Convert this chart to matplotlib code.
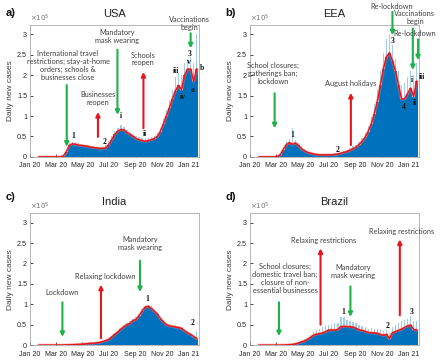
import numpy as np
import matplotlib
matplotlib.use("Agg")
import matplotlib.pyplot as plt

# weekly sample days (days since 1 Jan 2020), values in units of 1e5 daily cases
week_days = [21 + 7 * k for k in range(53)]
tick_days = [0, 60, 121, 182, 244, 305, 366]
tick_labels = ["Jan 20", "Mar 20", "May 20", "Jul 20", "Sep 20", "Nov 20", "Jan 21"]

usa = [0, 0, 0, 0, 0, 0, 0, 0, 0.02, 0.12, 0.28, 0.32, 0.31, 0.29, 0.28, 0.27, 0.26, 0.24,
       0.23, 0.22, 0.21, 0.21, 0.22, 0.30, 0.42, 0.55, 0.63, 0.67, 0.66, 0.60, 0.55, 0.50,
       0.45, 0.42, 0.40, 0.38, 0.40, 0.42, 0.45, 0.50, 0.62, 0.80, 1.00, 1.20, 1.42, 1.62,
       1.75, 1.65, 2.00, 2.15, 2.15, 1.85, 2.15]
usa_peak = [0, 0, 0, 0, 0, 0, 0, 0, 0.03, 0.15, 0.34, 0.36, 0.35, 0.33, 0.31, 0.30, 0.29, 0.27,
            0.26, 0.25, 0.24, 0.25, 0.28, 0.38, 0.50, 0.63, 0.70, 0.77, 0.74, 0.67, 0.60, 0.55,
            0.50, 0.48, 0.46, 0.47, 0.47, 0.48, 0.52, 0.58, 0.72, 0.95, 1.15, 1.40, 1.65, 1.95,
            2.05, 2.00, 2.30, 2.40, 2.45, 2.30, 3.00]

eea = [0, 0, 0, 0, 0, 0, 0.01, 0.05, 0.18, 0.30, 0.35, 0.31, 0.34, 0.28, 0.20, 0.15, 0.11, 0.09,
       0.07, 0.06, 0.05, 0.05, 0.05, 0.05, 0.05, 0.06, 0.07, 0.09, 0.11, 0.13, 0.16, 0.20,
       0.24, 0.30, 0.38, 0.48, 0.62, 0.80, 1.05, 1.35, 1.75, 2.15, 2.45, 2.55, 2.35, 2.10,
       1.75, 1.42, 1.42, 1.55, 1.68, 1.48, 1.85]
eea_peak = [0, 0, 0, 0, 0, 0, 0.02, 0.08, 0.22, 0.38, 0.45, 0.72, 0.42, 0.35, 0.26, 0.19, 0.14, 0.11,
            0.09, 0.08, 0.07, 0.07, 0.07, 0.07, 0.08, 0.09, 0.10, 0.12, 0.15, 0.18, 0.21, 0.26,
            0.30, 0.37, 0.46, 0.58, 0.75, 0.97, 1.30, 1.65, 2.10, 2.55, 2.90, 3.00, 2.75, 2.40,
            2.10, 1.75, 1.80, 1.95, 2.10, 2.00, 2.30]

india = [0, 0, 0, 0, 0, 0, 0.001, 0.002, 0.003, 0.005, 0.008, 0.01, 0.013, 0.017, 0.022, 0.028,
         0.035, 0.045, 0.045, 0.055, 0.065, 0.085, 0.11, 0.14, 0.20, 0.26, 0.32, 0.39, 0.45, 0.50,
         0.53, 0.60, 0.63, 0.72, 0.83, 0.93, 0.95, 0.90, 0.83, 0.76, 0.65, 0.57, 0.50, 0.47,
         0.46, 0.44, 0.43, 0.41, 0.35, 0.30, 0.26, 0.21, 0.16]
india_peak = [0, 0, 0, 0, 0, 0, 0.002, 0.003, 0.004, 0.006, 0.01, 0.012, 0.015, 0.02, 0.025, 0.032,
              0.04, 0.05, 0.052, 0.062, 0.075, 0.095, 0.12, 0.16, 0.22, 0.29, 0.35, 0.42, 0.48, 0.53,
              0.58, 0.64, 0.68, 0.77, 0.88, 0.97, 0.99, 0.95, 0.88, 0.80, 0.70, 0.62, 0.55, 0.51,
              0.50, 0.48, 0.47, 0.45, 0.39, 0.34, 0.30, 0.25, 0.35]

brazil = [0, 0, 0, 0, 0, 0, 0, 0, 0.002, 0.005, 0.01, 0.015, 0.03, 0.05, 0.08, 0.10, 0.14, 0.19,
          0.24, 0.27, 0.28, 0.30, 0.33, 0.37, 0.37, 0.37, 0.38, 0.45, 0.46, 0.45, 0.45, 0.44,
          0.41, 0.37, 0.36, 0.34, 0.31, 0.30, 0.30, 0.29, 0.26, 0.24, 0.26, 0.16, 0.30, 0.33,
          0.36, 0.39, 0.43, 0.47, 0.49, 0.38, 0.37]
brazil_peak = [0, 0, 0, 0, 0, 0, 0, 0, 0.004, 0.008, 0.015, 0.02, 0.04, 0.07, 0.11, 0.14, 0.18, 0.25,
               0.32, 0.38, 0.40, 0.45, 0.50, 0.50, 0.52, 0.55, 0.55, 0.68, 0.70, 0.62, 0.60, 0.57,
               0.55, 0.50, 0.47, 0.45, 0.40, 0.42, 0.40, 0.40, 0.37, 0.35, 0.38, 0.30, 0.45, 0.48,
               0.55, 0.58, 0.62, 0.65, 0.72, 0.58, 0.60]

GREEN = "#1FB24A"
RED = "#E8161B"
TXT = "#404040"
NOTE_FONT = ["Lato", "DejaVu Sans"]
AX_FONT = ["Liberation Sans", "DejaVu Sans"]

fig = plt.figure(figsize=(4.4, 3.64), dpi=100)
W, H = 0.384, 0.362
ax_a = fig.add_axes([0.068, 0.569, W, H])
ax_b = fig.add_axes([0.568, 0.569, W, H])
ax_c = fig.add_axes([0.068, 0.052, W, H])
ax_d = fig.add_axes([0.568, 0.052, W, H])


def panel(ax, vals, peaks, title):
    ax.bar(week_days, peaks, width=3, color="#9FCDEB", linewidth=0, zorder=1)
    ax.bar(week_days, vals, width=7, color="#0072BD", linewidth=0, zorder=2)
    ax.plot(week_days, vals, color="#F08A8C", lw=2.2, alpha=0.45, zorder=3)
    ax.plot(week_days, vals, color=RED, lw=1.1, zorder=4)
    ax.set_xlim(0, 390)
    ax.set_ylim(0, 3.23)
    ax.set_xticks(tick_days)
    ax.set_xticklabels(tick_labels, fontsize=5, family=AX_FONT, color="#262626")
    ax.set_yticks([0, 0.5, 1, 1.5, 2, 2.5, 3])
    ax.set_yticklabels(["0", "0.5", "1", "1.5", "2", "2.5", "3"], fontsize=5.2,
                       family=AX_FONT, color="#262626")
    ax.tick_params(direction="in", length=2, width=0.5, pad=2)
    ax.tick_params(axis="x", pad=4)
    for s in ax.spines.values():
        s.set_linewidth(0.5)
        s.set_color("#9A9A9A")
    ax.set_ylabel("Daily new cases", fontsize=6, family=AX_FONT, color=TXT, labelpad=2)
    ax.set_title(title, fontsize=8, family=AX_FONT, color="#202020", pad=6)
    ax.text(0, 1.01, r"$\times10^5$", transform=ax.transAxes, fontsize=5, color="#707070",
            va="bottom", ha="left")


def note(ax, x, y, s):
    ax.text(x, y, s, fontsize=5.3, family=NOTE_FONT, color=TXT, ha="center", va="center",
            linespacing=1.15, clip_on=False, zorder=6)


def arrow(ax, x, y0, y1, color):
    ax.annotate("", xy=(x, y1), xytext=(x, y0), annotation_clip=False, zorder=5,
                arrowprops=dict(arrowstyle="-|>", color=color, lw=1.5, mutation_scale=6,
                                shrinkA=0, shrinkB=0))


def mark(ax, x, y, s):
    ax.text(x, y, s, fontsize=5.5, family=["Liberation Serif", "DejaVu Serif"], weight="bold",
            color="#111111", ha="center", va="center", clip_on=False, zorder=6)


panel(ax_a, usa, usa_peak, "USA")
panel(ax_b, eea, eea_peak, "EEA")
panel(ax_c, india, india_peak, "India")
panel(ax_d, brazil, brazil_peak, "Brazil")

# a) USA
note(ax_a, 88, 2.24, "International travel\nrestrictions; stay-at-home\norders; schools &\nbusinesses close")
arrow(ax_a, 85, 1.76, 0.25, GREEN)
note(ax_a, 157, 1.43, "Businesses\nreopen")
arrow(ax_a, 157, 0.49, 1.1, RED)
note(ax_a, 201, 2.95, "Mandatory\nmask wearing")
arrow(ax_a, 202, 2.63, 1.03, GREEN)
note(ax_a, 261, 2.4, "Schools\nreopen")
arrow(ax_a, 262, 0.7, 2.08, RED)
note(ax_a, 369, 3.28, "Vaccinations\nbegin")
arrow(ax_a, 371, 3.03, 2.66, GREEN)
for x, y, s in [(101, 0.51, "1"), (173, 0.37, "2"), (211, 0.99, "i"), (265, 0.56, "ii"),
                (338, 2.11, "iii"), (352, 1.47, "iv"), (368, 2.52, "3"), (368, 2.33, "v"),
                (375, 1.65, "a"), (397, 2.17, "b")]:
    mark(ax_a, x, y, s)

# b) EEA
note(ax_b, 53, 2.05, "School closures;\ngatherings ban;\nlockdown")
arrow(ax_b, 57, 1.56, 0.7, GREEN)
note(ax_b, 233, 1.8, "August holidays")
arrow(ax_b, 233, 0.29, 1.57, RED)
note(ax_b, 327, 3.69, "Re-lockdown")
arrow(ax_b, 329, 3.55, 2.98, GREEN)
note(ax_b, 381, 3.42, "Vaccinations\nbegin")
note(ax_b, 381, 3.02, "Re-lockdown")
arrow(ax_b, 376, 3.15, 2.13, GREEN)
arrow(ax_b, 388, 2.88, 2.37, GREEN)
for x, y, s in [(97, 0.54, "1"), (202, 0.17, "2"), (329, 2.84, "3"), (355, 1.23, "4"),
                (375, 1.88, "i"), (380, 1.32, "ii"), (397, 1.95, "iii")]:
    mark(ax_b, x, y, s)

# c) India
note(ax_c, 75, 1.28, "Lockdown")
arrow(ax_c, 75, 1.05, 0.2, GREEN)
note(ax_c, 173, 1.69, "Relaxing lockdown")
arrow(ax_c, 164, 0.17, 1.48, RED)
note(ax_c, 254, 2.48, "Mandatory\nmask wearing")
arrow(ax_c, 254, 2.07, 1.3, GREEN)
mark(ax_c, 271, 1.13, "1")
mark(ax_c, 375, 0.55, "2")

# d) Brazil
note(ax_d, 81, 1.64, "School closures;\ndomestic travel ban;\nclosure of non-\nessential businesses")
arrow(ax_d, 67, 1.05, 0.22, GREEN)
note(ax_d, 171, 2.56, "Relaxing restrictions")
arrow(ax_d, 163, 0.5, 2.37, RED)
note(ax_d, 238, 1.8, "Mandatory\nmask wearing")
arrow(ax_d, 232, 1.44, 0.69, GREEN)
note(ax_d, 350, 2.78, "Relaxing restrictions")
arrow(ax_d, 346, 0.73, 2.59, RED)
mark(ax_d, 215, 0.81, "1")
mark(ax_d, 317, 0.47, "2")
mark(ax_d, 374, 0.82, "3")

for lab, x, y in [("a)", 0.012, 0.965), ("b)", 0.512, 0.965), ("c)", 0.012, 0.458), ("d)", 0.512, 0.458)]:
    fig.text(x, y, lab, fontsize=8, weight="bold", family=AX_FONT, color="#111111",
             ha="left", va="center")

fig.savefig("out.png", dpi=100)
